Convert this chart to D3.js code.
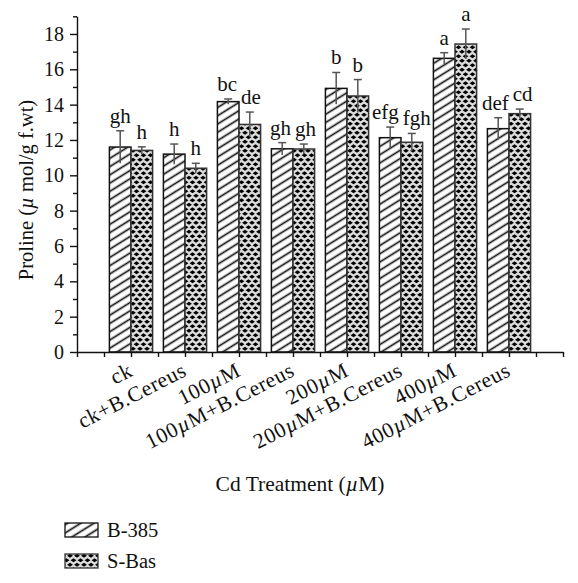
<!DOCTYPE html>
<html><head><meta charset="utf-8">
<script src="https://cdn.jsdelivr.net/npm/d3@7"></script>
<style>
body{margin:0;background:#fff}
svg{display:block}
text{font-family:"Liberation Serif","Times New Roman",serif;fill:#111}
</style>
</head><body><svg id="c" width="578" height="583"></svg>
<script>
// ---- data ----
const categories = ["ck","ck+B.Cereus","100µM","100µM+B.Cereus","200µM","200µM+B.Cereus","400µM","400µM+B.Cereus"];
const seriesNames = ["B-385","S-Bas"];
const b385 = [11.6,11.2,14.17,11.5,14.92,12.13,16.62,12.64];
const b385Err = [0.92,0.57,0.15,0.35,0.9,0.6,0.32,0.62];
const sbas = [11.41,10.4,12.88,11.49,14.49,11.87,17.43,13.49];
const sbasErr = [0.2,0.28,0.7,0.28,0.93,0.5,0.85,0.26];
const b385Letters = ["gh","h","bc","gh","b","efg","a","def"];
const sbasLetters = ["h","h","de","gh","b","fgh","a","cd"];
const yMajorTicks = [0,2,4,6,8,10,12,14,16,18];
const yMinorTicks = [1,3,5,7,9,11,13,15,17,19];
const yTitle = "Proline (µ mol/g f.wt)";
const xTitle = "Cd Treatment (µM)";

// ---- setup ----
const svg = d3.select("#c");
const x = d3.scaleLinear().domain([0,9]).range([77,563]);
const y = d3.scaleLinear().domain([0,19]).range([352,16.3]);
const barW = x(0.4)-x(0);

const defs = svg.append("defs");
const hatch = defs.append("pattern").attr("id","hatch").attr("patternUnits","userSpaceOnUse")
  .attr("width",12).attr("height",7).attr("patternTransform","rotate(-32)");
hatch.append("rect").attr("width",12).attr("height",7).attr("fill","#fff");
hatch.append("line").attr("x1",0).attr("x2",12).attr("y1",3.5).attr("y2",3.5)
  .attr("stroke","#111").attr("stroke-width",1.7);

const dia = defs.append("pattern").attr("id","dia").attr("patternUnits","userSpaceOnUse")
  .attr("width",7).attr("height",9);
dia.append("rect").attr("width",7).attr("height",9).attr("fill","#dcdcdc");
const dpath = (cx,cy)=>`M${cx-2.9},${cy}L${cx},${cy-2.1}L${cx+2.9},${cy}L${cx},${cy+2.1}Z`;
[[3.5,2.25],[0,6.75],[7,6.75]].forEach(([cx,cy])=>{
  dia.append("path").attr("d",dpath(cx,cy)).attr("fill","#000");
});

function addMu(sel, str){
  const parts = str.split("µ");
  parts.forEach((p,i)=>{
    if(i>0) sel.append("tspan").attr("font-style","italic").text("µ");
    if(p) sel.append("tspan").text(p);
  });
}

// ---- bars ----
const series = [
  {name:seriesNames[0], vals:b385, err:b385Err, letters:b385Letters, off:-0.4, fill:"url(#hatch)", stroke:"#111"},
  {name:seriesNames[1], vals:sbas, err:sbasErr, letters:sbasLetters, off:0, fill:"url(#dia)", stroke:"#333"}
];
series.forEach(s=>{
  const g = svg.append("g");
  g.selectAll("rect").data(s.vals).join("rect")
    .attr("x",(d,i)=>x(i+1+s.off)).attr("width",barW)
    .attr("y",d=>y(d)).attr("height",d=>y(0)-y(d))
    .attr("fill",s.fill).attr("stroke",s.stroke).attr("stroke-width",1.5);
});
const labelNodes = [[],[]];
series.forEach((s,si)=>{
  const g = svg.append("g");
  s.vals.forEach((v,i)=>{
    const cx = x(i+1+s.off+0.2);
    const top = y(v+s.err[i]);
    g.append("line").attr("x1",cx).attr("x2",cx).attr("y1",y(v-s.err[i])).attr("y2",top)
      .attr("stroke","#555").attr("stroke-width",1.5);
    g.append("line").attr("x1",cx-4).attr("x2",cx+4).attr("y1",top).attr("y2",top)
      .attr("stroke","#555").attr("stroke-width",1.5);
    const t = g.append("text").attr("x",cx).attr("y",top-8).attr("text-anchor","middle")
      .attr("font-size",21).text(s.letters[i]);
    labelNodes[si].push({t, cx});
  });
});
// push apart neighbouring letter labels within a group so they don't collide
categories.forEach((c,i)=>{
  const L = labelNodes[0][i], R = labelNodes[1][i];
  const wL = L.t.node().getComputedTextLength(), wR = R.t.node().getComputedTextLength();
  const overlap = (L.cx + wL/2 + 4) - (R.cx - wR/2);
  if(overlap > 0){
    L.t.attr("x", L.cx - overlap/2);
    R.t.attr("x", R.cx + overlap/2);
  }
});

// ---- axes ----
const yMajor = svg.append("g").attr("transform",`translate(${x(0)},0)`)
  .call(d3.axisLeft(y).tickValues(yMajorTicks).tickSize(7).tickSizeOuter(0).tickPadding(6).tickFormat(d3.format("d")));
const yMinor = svg.append("g").attr("transform",`translate(${x(0)},0)`)
  .call(d3.axisLeft(y).tickValues(yMinorTicks).tickSize(4).tickSizeOuter(0).tickFormat(""));
yMinor.select(".domain").remove();
[yMajor,yMinor].forEach(g=>{
  g.selectAll("line").attr("stroke","#111").attr("stroke-width",1.4);
  g.selectAll(".domain").attr("stroke","#111").attr("stroke-width",1.4);
});
yMajor.selectAll("text").attr("font-size",20).attr("font-family","Liberation Serif").attr("fill","#111");

const xAxis = svg.append("g").attr("transform",`translate(0,${y(0)})`)
  .call(d3.axisBottom(x).tickValues(d3.range(0,9.01,0.5)).tickSize(5).tickSizeOuter(0).tickFormat(""));
xAxis.selectAll("line").attr("stroke","#111").attr("stroke-width",1.4);
xAxis.select(".domain").attr("stroke","#111").attr("stroke-width",1.4);

categories.forEach((c,i)=>{
  const t = svg.append("text")
    .attr("transform",`translate(${x(i+1)+3},${y(0)+23}) rotate(-27)`)
    .attr("text-anchor","end").attr("font-size",21.5).attr("letter-spacing",0.6);
  addMu(t,c);
});

// ---- titles ----
const yt = svg.append("text").attr("transform","translate(33,190) rotate(-90)")
  .attr("text-anchor","middle").attr("font-size",20.5);
addMu(yt,yTitle);
const xt = svg.append("text").attr("x",300).attr("y",491)
  .attr("text-anchor","middle").attr("font-size",21.5);
addMu(xt,xTitle);

// ---- legend ----
const legend = svg.append("g");
series.forEach((s,i)=>{
  const yy = 523 + i*31;
  legend.append("rect").attr("x",65).attr("y",yy).attr("width",33).attr("height",14)
    .attr("fill",s.fill).attr("stroke",s.stroke).attr("stroke-width",1.3);
  legend.append("text").attr("x",107).attr("y",yy+14).attr("font-size",20.5).text(s.name);
});
</script></body></html>
